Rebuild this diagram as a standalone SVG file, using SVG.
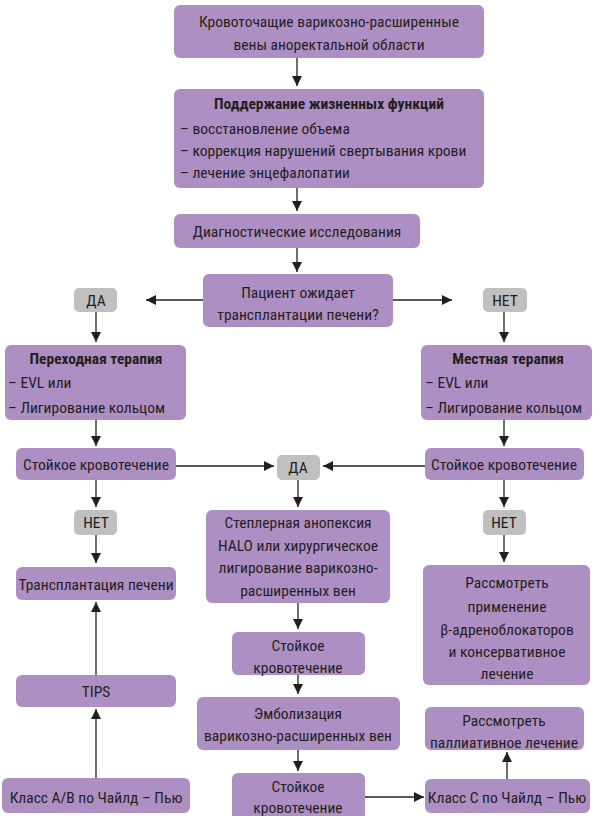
<svg xmlns="http://www.w3.org/2000/svg" width="597" height="816" viewBox="0 0 597 816">
<style>
.n{fill:#ad8fc4}
.g{fill:#c0c0c0}
text{font-family:"Liberation Sans Narrow","Roboto Condensed","DejaVu Sans Condensed","Liberation Sans",sans-serif;font-size:15.5px;fill:#231f20}
.c{text-anchor:middle}
.b{font-weight:bold}
.e line{stroke:#231f20;stroke-width:1.3;fill:none}
</style>
<defs>
<marker id="a" viewBox="0 0 10 10" refX="10" refY="5" markerWidth="10" markerHeight="10" markerUnits="userSpaceOnUse" orient="auto">
<path d="M0,0 L10,5 L0,10 z" fill="#231f20"/>
</marker>
</defs>
<rect width="597" height="816" fill="#fff"/>
<g class="e">
<line x1="297" y1="58" x2="297" y2="86" marker-end="url(#a)"/>
<line x1="297" y1="188" x2="297" y2="211" marker-end="url(#a)"/>
<line x1="297" y1="248" x2="297" y2="272" marker-end="url(#a)"/>
<line x1="203" y1="300" x2="146" y2="300" marker-end="url(#a)"/>
<line x1="393" y1="300" x2="452" y2="300" marker-end="url(#a)"/>
<line x1="96" y1="312" x2="96" y2="342" marker-end="url(#a)"/>
<line x1="504" y1="312" x2="504" y2="342" marker-end="url(#a)"/>
<line x1="96" y1="420" x2="96" y2="446" marker-end="url(#a)"/>
<line x1="504" y1="420" x2="504" y2="446" marker-end="url(#a)"/>
<line x1="176" y1="466" x2="274" y2="466" marker-end="url(#a)"/>
<line x1="425" y1="466" x2="323" y2="466" marker-end="url(#a)"/>
<line x1="298" y1="480" x2="298" y2="507" marker-end="url(#a)"/>
<line x1="96" y1="480" x2="96" y2="507" marker-end="url(#a)"/>
<line x1="504" y1="480" x2="504" y2="507" marker-end="url(#a)"/>
<line x1="96" y1="535" x2="96" y2="563" marker-end="url(#a)"/>
<line x1="504" y1="535" x2="504" y2="562" marker-end="url(#a)"/>
<line x1="298" y1="603" x2="298" y2="629" marker-end="url(#a)"/>
<line x1="298" y1="675" x2="298" y2="694" marker-end="url(#a)"/>
<line x1="298" y1="750" x2="298" y2="771" marker-end="url(#a)"/>
<line x1="365" y1="797" x2="424" y2="797" marker-end="url(#a)"/>
<line x1="507" y1="779" x2="507" y2="752" marker-end="url(#a)"/>
<line x1="96" y1="675" x2="96" y2="602" marker-end="url(#a)"/>
<line x1="96" y1="778" x2="96" y2="709" marker-end="url(#a)"/>
</g>
<g id="n1"><rect class="n" x="174" y="5" width="310" height="53" rx="6"/><text class="c" x="329" y="27">Кровоточащие варикозно-расширенные</text><text class="c" x="329" y="50">вены аноректальной области</text></g>
<g id="n2"><rect class="n" x="174" y="89" width="310" height="99" rx="6"/><text class="c b" x="329" y="109">Поддержание жизненных функций</text><text x="180" y="134">–  восстановление объема</text><text x="180" y="156">–  коррекция нарушений свертывания крови</text><text x="180" y="178">–  лечение энцефалопатии</text></g>
<g id="n3"><rect class="n" x="174" y="214" width="246" height="34" rx="6"/><text class="c" x="297" y="237">Диагностические исследования</text></g>
<g id="n4"><rect class="n" x="203" y="274" width="190" height="53" rx="6"/><text class="c" x="298" y="298">Пациент ожидает</text><text class="c" x="298" y="320">трансплантации печени?</text></g>
<g id="da1"><rect class="g" x="74" y="288" width="43" height="24" rx="5"/><text class="c" x="96" y="306">ДА</text></g>
<g id="net1"><rect class="g" x="483" y="288" width="44" height="24" rx="5"/><text class="c" x="505" y="306">НЕТ</text></g>
<g id="n5"><rect class="n" x="5" y="345" width="181" height="75" rx="6"/><text class="c b" x="96" y="364">Переходная терапия</text><text x="8" y="388">–  EVL или</text><text x="8" y="413">–  Лигирование кольцом</text></g>
<g id="n6"><rect class="n" x="421" y="345" width="171" height="75" rx="6"/><text class="c b" x="508" y="364">Местная терапия</text><text x="425" y="388">–  EVL или</text><text x="425" y="413">–  Лигирование кольцом</text></g>
<g id="n7"><rect class="n" x="16" y="448" width="160" height="32" rx="6"/><text class="c" x="96" y="470">Стойкое кровотечение</text></g>
<g id="n8"><rect class="n" x="425" y="448" width="159" height="32" rx="6"/><text class="c" x="504" y="470">Стойкое кровотечение</text></g>
<g id="da2"><rect class="g" x="277" y="455" width="43" height="25" rx="5"/><text class="c" x="298" y="473">ДА</text></g>
<g id="net2"><rect class="g" x="74" y="510" width="43" height="25" rx="5"/><text class="c" x="96" y="528">НЕТ</text></g>
<g id="net3"><rect class="g" x="483" y="510" width="43" height="25" rx="5"/><text class="c" x="504" y="528">НЕТ</text></g>
<g id="n9"><rect class="n" x="206" y="510" width="184" height="93" rx="6"/><text class="c" x="298" y="528">Степлерная анопексия</text><text class="c" x="298" y="551">HALO или хирургическое</text><text class="c" x="298" y="573">лигирование варикозно-</text><text class="c" x="298" y="596">расширенных вен</text></g>
<g id="n10"><rect class="n" x="16" y="567" width="160" height="33" rx="6"/><text class="c" x="96" y="590">Трансплантация печени</text></g>
<g id="n11"><rect class="n" x="423" y="565" width="167" height="120" rx="6"/><text class="c" x="507" y="588">Рассмотреть</text><text class="c" x="507" y="612">применение</text><text class="c" x="507" y="635">β-адреноблокаторов</text><text class="c" x="507" y="657">и консервативное</text><text class="c" x="507" y="679">лечение</text></g>
<g id="n12"><rect class="n" x="232" y="632" width="133" height="43" rx="6"/><text class="c" x="298" y="651">Стойкое</text><text class="c" x="298" y="673">кровотечение</text></g>
<g id="n13"><rect class="n" x="16" y="675" width="160" height="32" rx="6"/><text class="c" x="96" y="697">TIPS</text></g>
<g id="n14"><rect class="n" x="197" y="697" width="203" height="53" rx="6"/><text class="c" x="298" y="719">Эмболизация</text><text class="c" x="298" y="741">варикозно-расширенных вен</text></g>
<g id="n15"><rect class="n" x="425" y="707" width="159" height="43" rx="6"/><text class="c" x="504" y="726">Рассмотреть</text><text class="c" x="504" y="748">паллиативное лечение</text></g>
<g id="n16"><rect class="n" x="232" y="773" width="133" height="50" rx="6"/><text class="c" x="298" y="792">Стойкое</text><text class="c" x="298" y="813">кровотечение</text></g>
<g id="n17"><rect class="n" x="2" y="778" width="188" height="35" rx="6"/><text class="c" x="96" y="803">Класс A/B по Чайлд – Пью</text></g>
<g id="n18"><rect class="n" x="425" y="779" width="165" height="34" rx="6"/><text class="c" x="507" y="803">Класс С по Чайлд – Пью</text></g>
</svg>
